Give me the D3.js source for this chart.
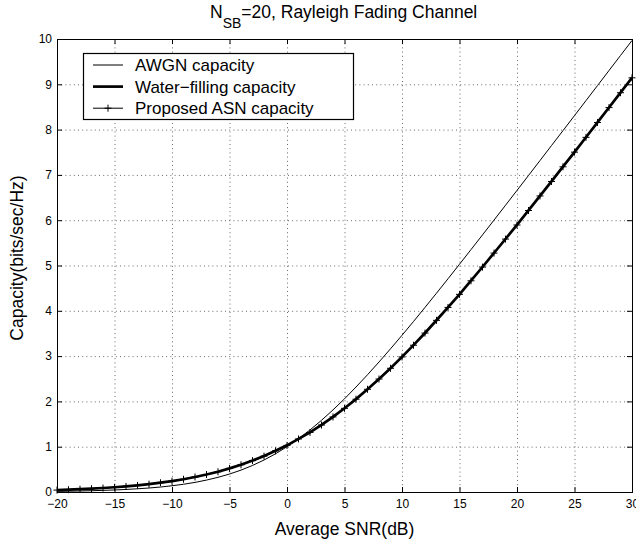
<!DOCTYPE html>
<html>
<head>
<meta charset="utf-8">
<script src="https://cdn.jsdelivr.net/npm/d3@7"></script>
<style>
  body { margin: 0; background: #fff; }
  text { font-family: "Liberation Sans", Arial, Helvetica, sans-serif; fill: #000; }
</style>
</head>
<body>
<div id="app"></div>
<script>
// average SNR in dB (x axis samples)
const snrDb = [-20,-19,-18,-17,-16,-15,-14,-13,-12,-11,-10,-9,-8,-7,-6,-5,-4,-3,-2,-1,
  0,1,2,3,4,5,6,7,8,9,10,11,12,13,14,15,16,17,18,19,20,21,22,23,24,25,26,27,28,29,30]

const awgnCapacity = [0.014,0.018,0.023,0.028,0.036,0.045,0.056,0.071,0.088,0.110,
  0.138,0.171,0.212,0.263,0.324,0.396,0.483,0.586,0.706,0.843,
  1.000,1.176,1.370,1.583,1.812,2.057,2.317,2.588,2.870,3.161,
  3.459,3.764,4.075,4.389,4.707,5.028,5.351,5.676,6.002,6.330,
  6.658,6.987,7.317,7.648,7.978,8.309,8.641,8.972,9.304,9.636,9.967]

const waterFillingCapacity = [0.043,0.052,0.062,0.074,0.088,0.105,0.124,0.147,0.174,0.205,
  0.241,0.282,0.332,0.387,0.448,0.521,0.602,0.693,0.793,0.909,
  1.030,1.173,1.317,1.480,1.659,1.849,2.050,2.269,2.496,2.733,
  2.983,3.242,3.510,3.791,4.076,4.365,4.664,4.967,5.276,5.585,
  5.896,6.216,6.537,6.857,7.181,7.504,7.831,8.159,8.488,8.816,9.145]

const asnCapacity = [0.042,0.051,0.061,0.073,0.087,0.104,0.123,0.146,0.173,0.204,
  0.240,0.281,0.331,0.386,0.447,0.520,0.601,0.692,0.792,0.908,
  1.028,1.171,1.315,1.478,1.657,1.847,2.048,2.267,2.494,2.731,
  2.981,3.240,3.508,3.789,4.074,4.363,4.662,4.965,5.274,5.583,
  5.894,6.214,6.535,6.855,7.179,7.502,7.829,8.157,8.486,8.814,9.143]

const xTicks = [-20,-15,-10,-5,0,5,10,15,20,25,30]
const yTicks = [0,1,2,3,4,5,6,7,8,9,10]
const legendLabels = ['AWGN capacity', 'Water\u2212filling capacity', 'Proposed ASN capacity']

const W = 636, H = 541
const plot = {left: 57, right: 632, top: 39, bottom: 492}

const svg = d3.select('#app').append('svg')
  .attr('width', W).attr('height', H)

const x = d3.scaleLinear().domain([-20, 30]).range([plot.left, plot.right])
const y = d3.scaleLinear().domain([0, 10]).range([plot.bottom, plot.top])

// dotted grid
const grid = svg.append('g').attr('stroke', '#444').attr('stroke-width', 0.8)
  .attr('stroke-dasharray', '1,3.2')
grid.selectAll('.gx').data(xTicks).enter().append('line')
  .attr('x1', d => x(d) + 0.5).attr('x2', d => x(d) + 0.5)
  .attr('y1', plot.top).attr('y2', plot.bottom)
grid.selectAll('.gy').data(yTicks).enter().append('line')
  .attr('y1', d => y(d) + 0.5).attr('y2', d => y(d) + 0.5)
  .attr('x1', plot.left).attr('x2', plot.right)

// axes, ticks pointing inward
const fmt = d3.format('d')
const styleAxis = g => {
  g.select('.domain').remove()
  g.selectAll('.tick line').attr('stroke', '#000')
  g.selectAll('.tick text').style('font-size', '12px')
    .style('font-family', '"Liberation Sans", Arial, sans-serif')
}
svg.append('g').attr('transform', 'translate(0,' + plot.bottom + ')')
  .call(d3.axisBottom(x).tickValues(xTicks).tickFormat(fmt).tickSizeInner(-5).tickSizeOuter(0).tickPadding(7))
  .call(styleAxis)
svg.append('g').attr('transform', 'translate(0,' + plot.top + ')')
  .call(d3.axisTop(x).tickValues(xTicks).tickFormat('').tickSizeInner(-5).tickSizeOuter(0))
  .call(styleAxis)
svg.append('g').attr('transform', 'translate(' + plot.left + ',0)')
  .call(d3.axisLeft(y).tickValues(yTicks).tickFormat(fmt).tickSizeInner(-5).tickSizeOuter(0).tickPadding(5))
  .call(styleAxis)
svg.append('g').attr('transform', 'translate(' + plot.right + ',0)')
  .call(d3.axisRight(y).tickValues(yTicks).tickFormat('').tickSizeInner(-5).tickSizeOuter(0))
  .call(styleAxis)

// box
svg.append('rect')
  .attr('x', plot.left + 0.5).attr('y', plot.top + 0.5)
  .attr('width', plot.right - plot.left).attr('height', plot.bottom - plot.top)
  .attr('fill', 'none').attr('stroke', '#000').attr('stroke-width', 1)

// curves
const mk = vals => snrDb.map((s, i) => ({snr: s, c: vals[i]}))
const line = d3.line().x(d => x(d.snr)).y(d => y(d.c))

svg.append('path').datum(mk(awgnCapacity))
  .attr('d', line).attr('fill', 'none').attr('stroke', '#000').attr('stroke-width', 1)
svg.append('path').datum(mk(waterFillingCapacity))
  .attr('d', line).attr('fill', 'none').attr('stroke', '#000').attr('stroke-width', 2.7)
svg.append('path').datum(mk(asnCapacity))
  .attr('d', line).attr('fill', 'none').attr('stroke', '#000').attr('stroke-width', 1)

const plus = (cx, cy, r) => 'M' + (cx - r) + ',' + cy + 'h' + 2 * r + 'M' + cx + ',' + (cy - r) + 'v' + 2 * r
svg.append('g').selectAll('path').data(mk(asnCapacity)).enter().append('path')
  .attr('d', d => plus(x(d.snr), y(d.c), 3.5))
  .attr('stroke', '#000').attr('stroke-width', 1)

// legend
const lg = svg.append('g')
lg.append('rect').attr('x', 83.5).attr('y', 53.5).attr('width', 270).attr('height', 66)
  .attr('fill', '#fff').attr('stroke', '#000').attr('stroke-width', 1.2)
const rows = lg.selectAll('g').data(legendLabels).enter().append('g')
  .attr('transform', (d, i) => 'translate(0,' + (65 + i * 21.6) + ')')
rows.append('line').attr('x1', 93).attr('x2', 123).attr('y1', 0).attr('y2', 0)
  .attr('stroke', '#000').attr('stroke-width', (d, i) => i === 1 ? 2.7 : 1)
rows.filter((d, i) => i === 2).append('path')
  .attr('d', plus(108, 0, 3.5)).attr('stroke', '#000')
rows.append('text').attr('x', 135).attr('dy', '0.36em')
  .style('font-size', '17px').text(d => d)

// title
const title = svg.append('text').attr('x', 210).attr('y', 18)
  .style('font-size', '17.5px')
title.append('tspan').text('N')
title.append('tspan').attr('dy', 10).style('font-size', '14px').text('SB')
title.append('tspan').attr('dy', -10).text('=20, Rayleigh Fading Channel')

// axis labels
svg.append('text').attr('x', (plot.left + plot.right) / 2).attr('y', 535)
  .attr('text-anchor', 'middle').style('font-size', '17.5px').text('Average SNR(dB)')
svg.append('text').attr('transform', 'translate(23,' + 258 + ') rotate(-90)')
  .attr('text-anchor', 'middle').style('font-size', '17.5px').text('Capacity(bits/sec/Hz)')
</script>
</body>
</html>
